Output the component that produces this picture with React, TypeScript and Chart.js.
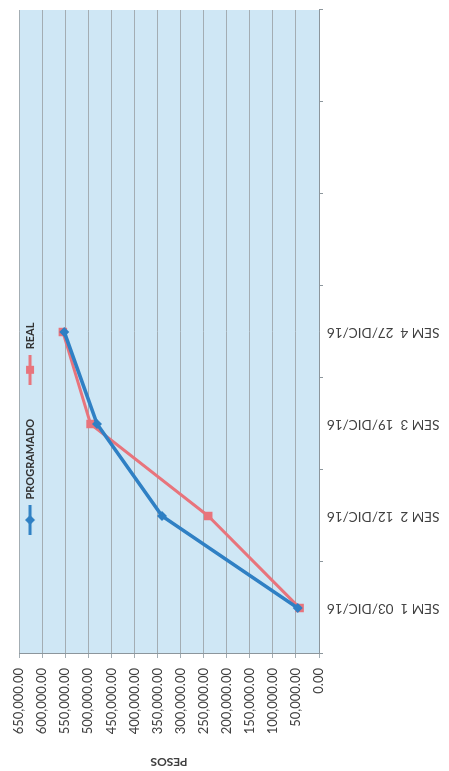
import React, { useEffect, useRef } from "react";
import { Chart, registerables } from "chart.js";

Chart.register(...registerables);

const categories = [
  "SEM 1  03/DIC/16",
  "SEM 2  12/DIC/16",
  "SEM 3  19/DIC/16",
  "SEM 4  27/DIC/16",
  "",
  "",
  "",
];
const programado = [46000, 340000, 481000, 552000, null, null, null];
const real = [42000, 240000, 495000, 555000, null, null, null];
const seriesNames = ["PROGRAMADO", "REAL"];
const axisTitle = "PESOS";

const BLUE = "#2f80c4";
const RED = "#e8747c";

function makeIcon(color: string, kind: "diamond" | "square") {
  const c = document.createElement("canvas");
  c.width = 30;
  c.height = 12;
  const ctx = c.getContext("2d")!;
  ctx.strokeStyle = color;
  ctx.lineWidth = 3;
  ctx.beginPath();
  ctx.moveTo(0, 6);
  ctx.lineTo(30, 6);
  ctx.stroke();
  ctx.fillStyle = color;
  if (kind === "square") {
    ctx.fillRect(11, 2, 8, 8);
  } else {
    ctx.beginPath();
    ctx.moveTo(15, 1);
    ctx.lineTo(20, 6);
    ctx.lineTo(15, 11);
    ctx.lineTo(10, 6);
    ctx.closePath();
    ctx.fill();
  }
  return c;
}

export default function App() {
  const ref = useRef<HTMLCanvasElement>(null);

  useEffect(() => {
    if (!ref.current) return;
    const icons = [makeIcon(BLUE, "diamond"), makeIcon(RED, "square")];
    const LEGEND_PAD = 34;

    const plotBg = {
      id: "plotBg",
      beforeDraw(chart: any) {
        const { ctx, chartArea } = chart;
        ctx.save();
        ctx.fillStyle = "#cfe7f5";
        ctx.fillRect(
          chartArea.left,
          chartArea.top,
          chartArea.right - chartArea.left,
          chartArea.bottom - chartArea.top
        );
        ctx.restore();
      },
    };

    // Place the legend inside the plot area, like the original spreadsheet chart.
    const legendPlace = {
      id: "legendPlace",
      afterLayout(chart: any) {
        const lg = chart.legend;
        if (lg) {
          const ca = chart.chartArea;
          lg.left = ca.left + 119 - LEGEND_PAD;
          lg.top = ca.top + 5.5 - LEGEND_PAD;
          lg.bottom = ca.top + 60;
          lg.right = ca.right;
        }
      },
    };

    const chart = new Chart(ref.current, {
      type: "line",
      data: {
        labels: categories,
        datasets: [
          {
            label: seriesNames[0],
            data: programado,
            borderColor: BLUE,
            backgroundColor: BLUE,
            borderWidth: 3.5,
            pointStyle: "rectRot",
            pointRadius: 5,
            pointBorderWidth: 0,
            tension: 0,
          },
          {
            label: seriesNames[1],
            data: real,
            borderColor: RED,
            backgroundColor: RED,
            borderWidth: 3,
            pointStyle: "rect",
            pointRadius: 6,
            pointBorderWidth: 0,
            tension: 0,
          },
        ],
      },
      options: {
        animation: false,
        responsive: true,
        maintainAspectRatio: false,
        layout: { padding: { top: 19, right: 10, bottom: 0, left: 0 } },
        font: { family: "Lato" },
        plugins: {
          tooltip: { enabled: false },
          legend: {
            position: "top",
            align: "start",
            maxHeight: 0.01,
            labels: {
              usePointStyle: true,
              pointStyleWidth: 30,
              padding: LEGEND_PAD,
              color: "#333333",
              font: { family: "Lato", size: 11, weight: "bold" },
              generateLabels(c: any) {
                const items = Chart.defaults.plugins.legend.labels.generateLabels(c);
                return items.map((it: any, i: number) => ({
                  ...it,
                  pointStyle: icons[i],
                }));
              },
            },
          },
        },
        scales: {
          x: {
            type: "category",
            offset: true,
            grid: {
              display: true,
              drawOnChartArea: false,
              offset: true,
              tickLength: 4,
              color: "#8c969c",
            },
            border: { display: true, color: "#8c969c", width: 1 },
            ticks: {
              autoSkip: false,
              minRotation: 90,
              maxRotation: 90,
              padding: 4,
              color: "#404040",
              font: { family: "Lato", size: 13.5 },
            },
            afterFit(scale: any) {
              scale.height = 130;
            },
          },
          y: {
            min: 0,
            max: 650000,
            ticks: {
              stepSize: 50000,
              padding: 10,
              color: "#404040",
              font: { family: "Lato", size: 13 },
              callback: (v: any) =>
                Number(v).toLocaleString("en-US", {
                  minimumFractionDigits: 2,
                  maximumFractionDigits: 2,
                }),
            },
            grid: {
              color: "#a3adb3",
              lineWidth: 1,
              tickLength: 4,
            },
            border: { display: true, color: "#8c969c", width: 1 },
            title: {
              display: true,
              text: axisTitle,
              color: "#404040",
              padding: { top: 2, bottom: 0 },
              font: { family: "Lato", size: 12, weight: "bold" },
            },
            afterFit(scale: any) {
              scale.width = 117;
            },
          },
        },
      } as any,
      plugins: [plotBg, legendPlace],
    });

    return () => chart.destroy();
  }, []);

  return (
    <div
      style={{
        position: "absolute",
        left: 0,
        top: 0,
        width: 449,
        height: 771,
        overflow: "hidden",
        background: "#ffffff",
      }}
    >
      <div
        style={{
          position: "absolute",
          left: 0,
          top: 0,
          width: 771,
          height: 449,
          transformOrigin: "0 0",
          transform: "translate(0px, 771px) rotate(-90deg)",
        }}
      >
        <canvas ref={ref} />
      </div>
    </div>
  );
}
